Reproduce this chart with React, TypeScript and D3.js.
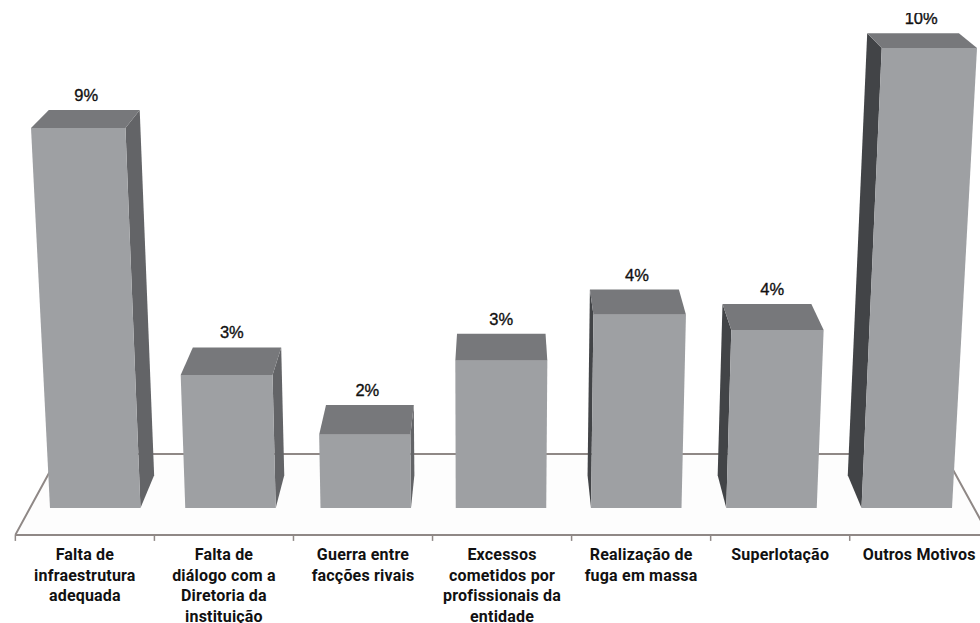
import React from 'react';
import * as d3 from 'd3';

const categories = [
    ['Falta de', 'infraestrutura', 'adequada'],
    ['Falta de', 'diálogo com a', 'Diretoria da', 'instituição'],
    ['Guerra entre', 'facções rivais'],
    ['Excessos', 'cometidos por', 'profissionais da', 'entidade'],
    ['Realização de', 'fuga em massa'],
    ['Superlotação'],
    ['Outros Motivos'],
];
// bar heights, the printed labels are rounded
const values = [8.26, 2.89, 1.59, 3.2, 4.2, 3.87, 10];
const valueLabels = ['9%', '3%', '2%', '3%', '4%', '4%', '10%'];

const width = 980;
const height = 623;
const baseY = 508;

const xScale = d3.scaleBand<number>().domain(d3.range(values.length)).range([50, 952]).paddingInner(0.331).paddingOuter(0);
const floorScale = d3.scaleBand<number>().domain(d3.range(values.length)).range([30, 974]);
const heightScale = d3.scaleLinear().domain([0, 10]).range([0, 460]);

// rough perspective of the original 3D chart
const project = (x: number, h: number, z: number): [number, number] => {
    const px = 482 + (x - 482) * (1 + 0.0001157 * h);
    const py = baseY - h;
    return [500 + (px - 500) * (1 - 0.038 * z), py - 0.039 * (py + 333) * z];
};

const floorFront = -0.82;
const floorBack = 1.646;

const poly = (pts: [number, number][]) => d3.line()(pts)! + 'Z';

const App = () => {
    const lineColor = '#8f8886';
    const floorLeft = floorScale.range()[0];
    const floorRight = floorScale.range()[1];
    const ticks = [...floorScale.domain().map((i) => floorScale(i)!), floorRight];

    return (
        <svg width={width} height={height} style={{ position: 'absolute', left: 0, top: 0, background: '#fff' }}>
            <defs>
                <clipPath id="page">
                    <rect x={0} y={13} width={width} height={height - 13} />
                </clipPath>
            </defs>
            <path
                d={poly([project(floorLeft, 0, floorFront), project(floorLeft, 0, floorBack), project(floorRight, 0, floorBack), project(floorRight, 0, floorFront)])}
                fill="#fdfdfd"
                stroke="none"
            />
            <g stroke={lineColor} strokeWidth={2} fill="none">
                <path d={d3.line()([project(floorLeft, 0, floorFront), project(floorLeft, 0, floorBack), project(floorRight, 0, floorBack), project(floorRight, 0, floorFront)])!} />
                <path d={d3.line()([project(floorLeft, 0, floorFront), project(floorRight, 0, floorFront)])!} />
            </g>
            <g stroke={lineColor} strokeWidth={1.5}>
                {ticks.map((t, i) => {
                    const [x, y] = project(t, 0, floorFront);
                    return <line key={i} x1={x} x2={x} y1={y} y2={y + 6} />;
                })}
            </g>

            {values.map((v, i) => {
                const x0 = xScale(i)!;
                const x1 = x0 + xScale.bandwidth();
                const h = heightScale(v);
                const ftl = project(x0, h, 0);
                const ftr = project(x1, h, 0);
                const fbl = project(x0, 0, 0);
                const fbr = project(x1, 0, 0);
                const btl = project(x0, h, 1);
                const btr = project(x1, h, 1);
                const bbl = project(x0, 0, 1);
                const bbr = project(x1, 0, 1);
                return (
                    <g key={i}>
                        {btr[0] > ftr[0] && <path d={poly([ftr, btr, bbr, fbr])} fill="#636467" />}
                        {btl[0] < ftl[0] && <path d={poly([ftl, btl, bbl, fbl])} fill="#424447" />}
                        <path d={poly([ftl, ftr, btr, btl])} fill="#77787b" />
                        <path d={poly([ftl, ftr, fbr, fbl])} fill="#9ea0a3" />
                        <text
                            x={(ftl[0] + ftr[0] + btl[0] + btr[0]) / 4}
                            y={btl[1] - 9}
                            textAnchor="middle"
                            fontFamily="'Liberation Sans', sans-serif"
                            fontSize={16.5}
                            fill="#111"
                            stroke="#111"
                            strokeWidth={0.35}
                            clipPath="url(#page)"
                        >
                            {valueLabels[i]}
                        </text>
                    </g>
                );
            })}

            {categories.map((lines, i) => {
                const [x] = project(floorScale(i)! + floorScale.bandwidth() / 2, 0, floorFront);
                return (
                    <text key={i} textAnchor="middle" fontFamily="Roboto, sans-serif" fontWeight={700} fontSize={16} letterSpacing={0.2} fill="#111">
                        {lines.map((line, j) => (
                            <tspan key={j} x={x} y={560 + j * 20.7}>
                                {line}
                            </tspan>
                        ))}
                    </text>
                );
            })}
        </svg>
    );
};

export default App;
